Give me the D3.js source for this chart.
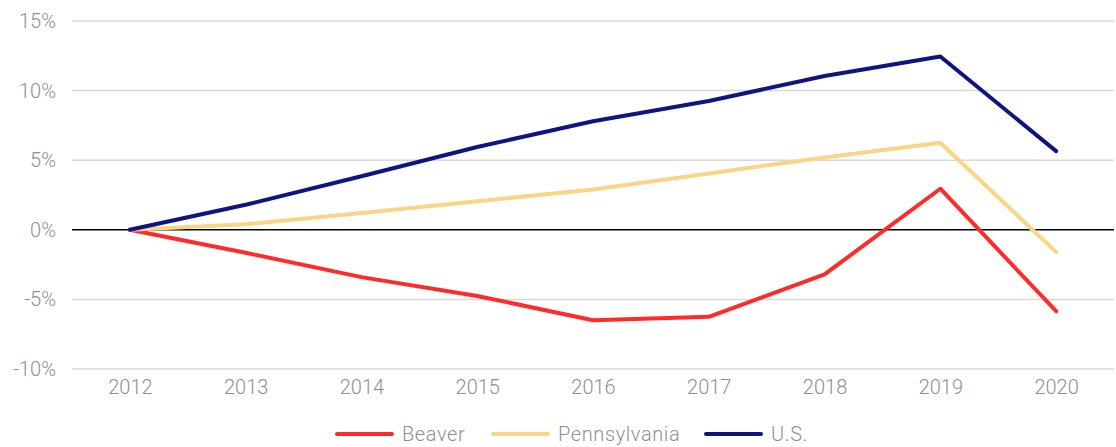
<!DOCTYPE html>
<html>
<head>
<meta charset="utf-8">
<script src="https://d3js.org/d3.v7.min.js"></script>
<style>
  body { margin: 0; background: #fff; }
  text { font-family: Roboto, "Noto Sans", sans-serif; font-weight: 300; }
</style>
</head>
<body>
<div id="chart-area"></div>
<script>
// chart data
var years = ["2012", "2013", "2014", "2015", "2016", "2017", "2018", "2019", "2020"];
var beaver = [0, -1.65, -3.4, -4.75, -6.5, -6.25, -3.2, 2.95, -5.85];
var pennsylvania = [0, 0.4, 1.2, 2.05, 2.9, 4.05, 5.2, 6.25, -1.6];
var us = [0, 1.8, 3.85, 5.95, 7.8, 9.25, 11.05, 12.45, 5.65];
var yTicks = [-10, -5, 0, 5, 10, 15];

var series = [
    { name: "Beaver", values: beaver, color: "#ff2a2a" },
    { name: "Pennsylvania", values: pennsylvania, color: "#fad585" },
    { name: "U.S.", values: us, color: "#0f1580" }
];

var W = 1116, H = 447;
var margin = { left: 72, right: 2, top: 21, bottom: 78 };
var width = W - margin.left - margin.right;
var height = H - margin.top - margin.bottom;

var svg = d3.select("#chart-area")
    .append("svg")
    .attr("width", W)
    .attr("height", H);

var g = svg.append("g")
    .attr("transform", "translate(" + margin.left + "," + margin.top + ")");

var x = d3.scalePoint()
    .domain(years)
    .range([0, width])
    .padding(0.5);

var y = d3.scaleLinear()
    .domain([-10, 15])
    .range([height, 0]);

// gridlines
g.selectAll(".grid")
    .data(yTicks.filter(function(d){ return d !== 0; }))
    .enter()
    .append("line")
    .attr("class", "grid")
    .attr("x1", 0)
    .attr("x2", width)
    .attr("y1", function(d){ return y(d); })
    .attr("y2", function(d){ return y(d); })
    .attr("stroke", "#d9d9d9")
    .attr("stroke-width", 1.5);

// y axis labels
var yAxisCall = d3.axisLeft(y)
    .tickValues(yTicks)
    .tickSize(0)
    .tickPadding(16)
    .tickFormat(function(d){ return d + "%"; });
var yAxis = g.append("g").attr("class", "y-axis").call(yAxisCall);
yAxis.select(".domain").remove();
yAxis.selectAll("text")
    .attr("fill", "#909090")
    .attr("font-size", "20px");

// x axis labels
var xAxisCall = d3.axisBottom(x).tickSize(0).tickPadding(11);
var xAxis = g.append("g")
    .attr("class", "x-axis")
    .attr("transform", "translate(0," + height + ")")
    .call(xAxisCall);
xAxis.select(".domain").remove();
xAxis.selectAll("text")
    .attr("fill", "#909090")
    .attr("font-size", "20px");

// zero line
g.append("line")
    .attr("x1", 0)
    .attr("x2", width)
    .attr("y1", y(0))
    .attr("y2", y(0))
    .attr("stroke", "#000")
    .attr("stroke-width", 1.6);

var line = d3.line()
    .x(function(d, i){ return x(years[i]); })
    .y(function(d){ return y(d); });

g.selectAll(".series")
    .data(series)
    .enter()
    .append("path")
    .attr("class", "series")
    .attr("d", function(d){ return line(d.values); })
    .attr("fill", "none")
    .attr("stroke", function(d){ return d.color; })
    .attr("stroke-width", 4)
    .attr("stroke-linejoin", "round")
    .attr("stroke-linecap", "round");

// legend
var legendX = [337, 493, 706];
var legend = svg.selectAll(".legend")
    .data(series)
    .enter()
    .append("g")
    .attr("class", "legend")
    .attr("transform", function(d, i){ return "translate(" + legendX[i] + ",434)"; });

legend.append("line")
    .attr("x1", 0)
    .attr("x2", 55)
    .attr("stroke", function(d){ return d.color; })
    .attr("stroke-width", 4)
    .attr("stroke-linecap", "round");

legend.append("text")
    .attr("x", 65)
    .attr("dy", "0.35em")
    .attr("fill", "#909090")
    .attr("font-size", "20px")
    .attr("letter-spacing", "0.6px")
    .text(function(d){ return d.name; });
</script>
</body>
</html>
